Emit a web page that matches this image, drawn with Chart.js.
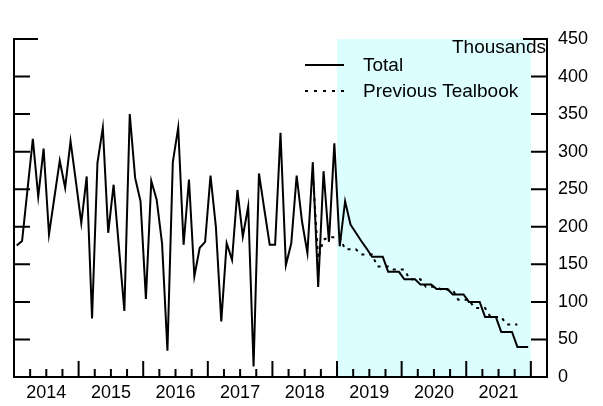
<!DOCTYPE html>
<html><head><meta charset="utf-8">
<script src="https://cdn.jsdelivr.net/npm/chart.js@4/dist/chart.umd.min.js"></script>
<style>html,body{margin:0;padding:0;background:#fff;}</style>
</head><body>
<canvas id="c" width="603" height="406"></canvas>
<script>
// ---- data ----
const startYear = 2014;
const yearLabels = ['2014','2015','2016','2017','2018','2019','2020','2021'];
const yTickValues = [0,50,100,150,200,250,300,350,400,450];
// monthly values, Jan 2014 .. Dec 2021 (thousands)
const total = [
  175,181,249,317,240,304,190,239,288,252,314,260,
  205,267,78,285,332,192,256,172,88,350,265,234,
  104,261,236,178,35,286,332,176,263,134,172,180,
  268,200,74,178,156,249,187,227,14,271,223,176,
  176,325,149,178,268,207,165,286,120,274,180,311,
  174,234,203,192,181,171,160,160,160,140,140,140,
  130,130,130,123,123,123,117,117,117,110,110,110,
  100,100,100,80,80,80,60,60,60,40,40,40
];
const previous = [
  null,null,null,null,null,null,null,null,null,null,null,null,
  null,null,null,null,null,null,null,null,null,null,null,null,
  null,null,null,null,null,null,null,null,null,null,null,null,
  null,null,null,null,null,null,null,null,null,null,null,null,
  null,null,null,null,null,null,null,270,158,183,
  186,186,186,170,170,170,163,163,163,147,147,147,
  143,143,143,130,130,130,120,120,120,116,116,116,
  103,103,103,92,92,92,80,80,80,70,70,70
];
const seriesNames = ['Total','Previous Tealbook'];
const unitLabel = 'Thousands';
const forecastStartMonth = 60;   // Jan 2019
const forecastEndMonth = 96;     // end of 2021
const axisEndMonth = 99;

// ---- style ----
const FONT = '"Liberation Sans", Arial, Helvetica, sans-serif';
const SHADE = '#dcfefe';

const toPts = arr => arr.map((v,i)=>({x:i+0.5, y:v}));

const decor = {
  id:'decor',
  beforeDatasetsDraw(chart){
    const {ctx, chartArea:{top,bottom}, scales:{x}} = chart;
    const a = x.getPixelForValue(forecastStartMonth), b = x.getPixelForValue(forecastEndMonth);
    ctx.save(); ctx.fillStyle = SHADE; ctx.fillRect(a, top, b-a, bottom-top); ctx.restore();
  },
  afterDatasetsDraw(chart){
    const {ctx, chartArea:{left,right,top,bottom}, scales:{x,y}} = chart;
    ctx.save();
    ctx.strokeStyle = '#000'; ctx.lineWidth = 2; ctx.lineCap = 'butt';
    ctx.beginPath();
    ctx.moveTo(left, top-1); ctx.lineTo(left, bottom);
    ctx.moveTo(right, top-1); ctx.lineTo(right, bottom);
    ctx.moveTo(left-1, bottom); ctx.lineTo(right+1, bottom);
    yTickValues.forEach(v=>{
      const py = y.getPixelForValue(v);
      const len = v===450 ? 24 : 16;
      ctx.moveTo(left, py); ctx.lineTo(left+len, py);
      ctx.moveTo(right, py); ctx.lineTo(right-len, py);
    });
    for(let q=0; q<=axisEndMonth; q+=3){
      const px = x.getPixelForValue(q);
      const len = q%12===0 ? 16 : 8;
      ctx.moveTo(px, bottom); ctx.lineTo(px, bottom-len);
    }
    ctx.stroke();
    // legend
    ctx.lineWidth = 2;
    ctx.beginPath(); ctx.moveTo(305,65); ctx.lineTo(344,65); ctx.stroke();
    ctx.setLineDash([3,6]);
    ctx.beginPath(); ctx.moveTo(305,91); ctx.lineTo(344,91); ctx.stroke();
    ctx.setLineDash([]);
    ctx.fillStyle = '#000'; ctx.font = '19px ' + FONT;
    ctx.textAlign = 'left'; ctx.textBaseline = 'middle';
    ctx.fillText(seriesNames[0], 363, 66);
    ctx.fillText(seriesNames[1], 363, 92);
    ctx.textAlign = 'right';
    ctx.fillText(unitLabel, 546, 48);
    ctx.restore();
  }
};

new Chart(document.getElementById('c'), {
  type:'line',
  data:{datasets:[
    {label:seriesNames[0], data:toPts(total), borderColor:'#000', borderWidth:2, pointRadius:0, tension:0, fill:false},
    {label:seriesNames[1], data:toPts(previous), borderColor:'#000', borderWidth:2, borderDash:[3,5], pointRadius:0, tension:0, fill:false, spanGaps:false}
  ]},
  options:{
    responsive:false, animation:false, devicePixelRatio:1,
    layout:{padding:{left:14, top:39, right:0, bottom:0}},
    plugins:{legend:{display:false}, title:{display:false}, tooltip:{enabled:false}},
    scales:{
      x:{type:'linear', position:'bottom', min:0, max:axisEndMonth,
         grid:{display:false}, border:{display:false},
         afterBuildTicks: s => { s.ticks = yearLabels.map((l,k)=>({value:12*k+6})); },
         afterFit: s => { s.height = 29; },
         ticks:{autoSkip:false, maxRotation:0, padding:-3, color:'#000', font:{family:FONT, size:18},
                callback: v => yearLabels[Math.round((v-6)/12)]}},
      y:{type:'linear', position:'right', min:0, max:450,
         grid:{display:false}, border:{display:false},
         afterFit: s => { s.width = 56; },
         ticks:{stepSize:50, padding:3, color:'#000', font:{family:FONT, size:18}}}
    }
  },
  plugins:[decor]
});
</script>
</body></html>
